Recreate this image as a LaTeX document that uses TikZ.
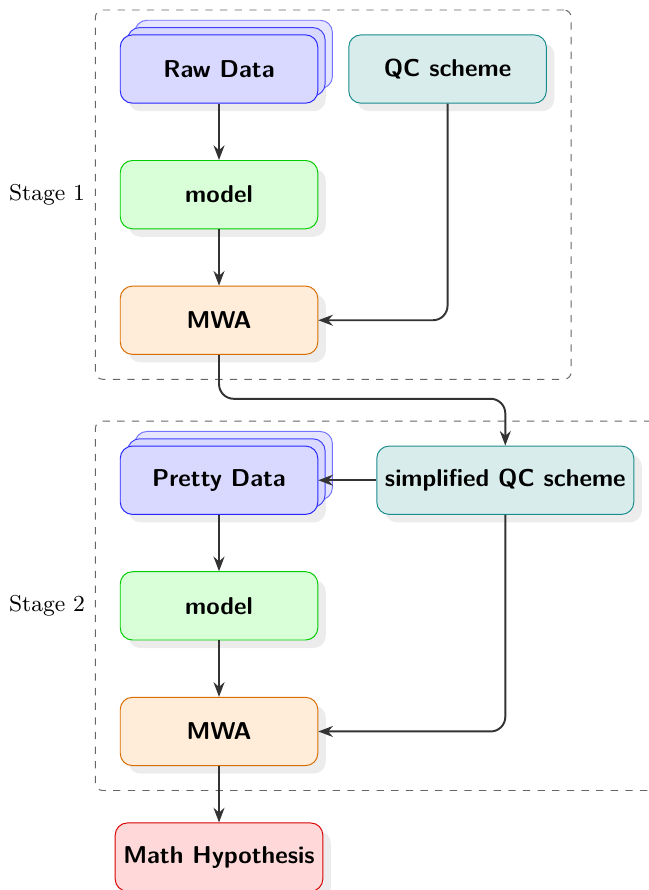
\documentclass[tikz,border=0pt]{standalone}
\usepackage{tikz}
\usetikzlibrary{positioning,arrows.meta,shadows,fit}
\tikzset{>={Stealth[length=6pt,width=4.5pt]}}
\tikzset{
  block/.style={draw, rounded corners=5pt, minimum width=81pt, minimum height=28pt,
    font=\sffamily\bfseries,
    drop shadow={opacity=0.15, shadow xshift=3.3pt, shadow yshift=-3.3pt}},
  data/.style={block, fill=blue!15, draw=blue!85,
    copy shadow={shadow xshift=6pt, shadow yshift=6pt, fill=blue!10, draw=blue!55},
    copy shadow={shadow xshift=3pt, shadow yshift=3pt, fill=blue!15, draw=blue!75}},
  qcbox/.style={block, fill=teal!15, draw=teal!90},
  modelbox/.style={block, fill=green!15, draw=green!80!black},
  mwabox/.style={block, fill=orange!15, draw=orange!85!black},
  hypbox/.style={block, fill=red!15, draw=red!85!black},
  stage/.style={draw=black!60, dashed, rounded corners=3pt, inner sep=10pt},
  stagelabel/.style={font=\fontsize{9.4pt}{11pt}\selectfont},
  line/.style={->, draw=black!80, thick, rounded corners=6pt}
}

\begin{document}
\begin{tikzpicture}[node distance=51.5pt]
    \useasboundingbox (-89.8pt,-336.6pt) rectangle (175.9pt,28.3pt);
    %stage 1
    \node[data] (raw) {Raw Data};
    \node[qcbox] (qc) [right=12.3pt of raw] {QC scheme};
    \node[modelbox] (model1) [below of=raw] {model};
    \node[mwabox] (mwa1) [below of=model1] {MWA};
    \node[stage, fit=(raw)(qc)(mwa1)] (stage1) {};
    \node[stagelabel, left=0.5pt of stage1] (lab1) {Stage 1};
    %stage 2
    \node[data, node distance=65.6pt] (pretty) [below of=mwa1] {Pretty Data};
    \node[qcbox] (simp) [right=23.8pt of pretty] {simplified QC scheme};
    \node[modelbox] (model2) [below of=pretty] {model};
    \node[mwabox] (mwa2) [below of=model2] {MWA};
    \node[stage, fit=(pretty)(simp)(mwa2)] (stage2) {};
    \node[stagelabel, left=0.5pt of stage2] (lab2) {Stage 2};
    \node[hypbox] (hyp) [below of=mwa2] {Math Hypothesis};

    \draw[line] (raw) -- (model1);
    \draw[line] (model1) -- (mwa1);
    \draw[line] (qc.south) |- (mwa1.east);
    \draw[line] (mwa1.south) -- ++(0,-18pt) -| (simp.north);
    \draw[line] (simp.west) -- (pretty.east);
    \draw[line] (pretty) -- (model2);
    \draw[line] (model2) -- (mwa2);
    \draw[line] (simp.south) |- (mwa2.east);
    \draw[line] (mwa2) -- (hyp);
\end{tikzpicture}
\end{document}
